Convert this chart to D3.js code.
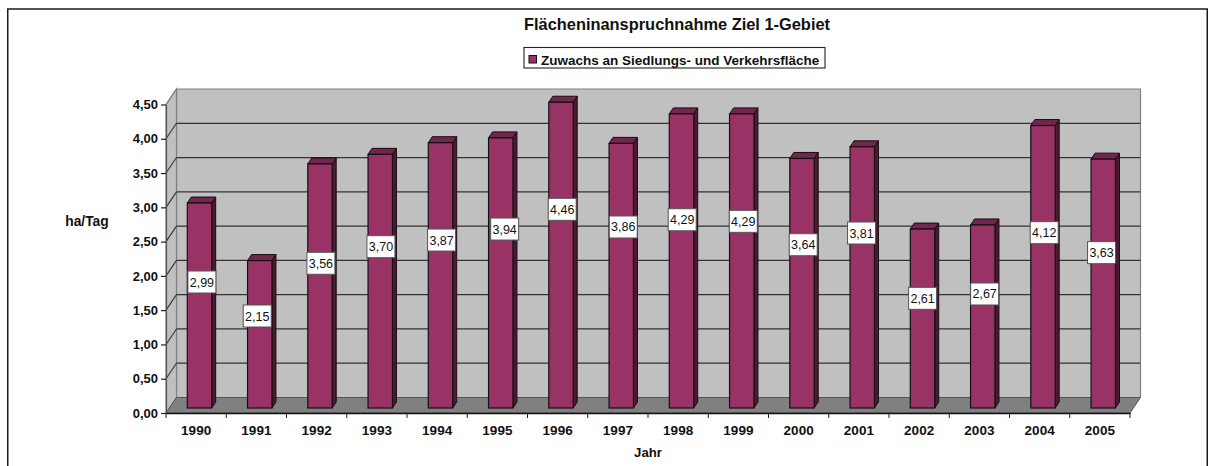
<!DOCTYPE html>
<html><head><meta charset="utf-8">
<script src="https://cdn.jsdelivr.net/npm/d3@7/dist/d3.min.js"></script>
<style>
html,body{margin:0;padding:0;background:#fff;overflow:hidden}
svg{display:block}
text{font-family:"Liberation Sans",Arial,sans-serif;fill:#111}
</style></head><body><svg id="c" width="1213" height="466"></svg>
<script>
const years = ["1990","1991","1992","1993","1994","1995","1996","1997","1998","1999","2000","2001","2002","2003","2004","2005"];
const growth = [2.99,2.15,3.56,3.70,3.87,3.94,4.46,3.86,4.29,4.29,3.64,3.81,2.61,2.67,4.12,3.63];
const yTicks = [0,0.5,1,1.5,2,2.5,3,3.5,4,4.5];
const titleText = "Flächeninanspruchnahme Ziel 1-Gebiet";
const legendText = "Zuwachs an Siedlungs- und Verkehrsfläche";
const yAxisTitle = "ha/Tag";
const xAxisTitle = "Jahr";
// hand-placed data labels in the original: shift from each bar's centre
const labelShiftX = [2.4,-2.5,0.9,0.7,1.1,3.9,1.2,2,0.7,1.5,1.2,-0.7,0.1,1.9,1.2,-1.7];
const labelShiftY = [-23.5,-18.3,-22.7,-34.5,-35.3,-43.9,-45.8,-48.7,-41.2,-39.6,-38.5,-44.4,-20.2,-22.5,-34.1,-30.9];

const svg = d3.select("#c");
const fmt = v => v.toFixed(2).replace(".", ",");
const x = d3.scaleBand().domain(years).range([166,1130]);
const y = d3.scaleLinear().domain([0,4.5]).range([413,104.5]);
const wallDx = 10.5, wallDy = -15.5, barDx = 4, barDy = -6;
const x0 = x.range()[0], x1 = x.range()[1], y0 = y(0), yTop = y(4.5);
const barW = 24.4, barLeft = 21.3, barLift = 5;
const poly = pts => pts.map(p => p.join(",")).join(" ");

// chart frame (open at the bottom of the crop)
svg.append("rect").attr("x",7.75).attr("y",9).attr("width",1199.5).attr("height",470)
  .attr("fill","#fff").attr("stroke","#1a1a1a").attr("stroke-width",1.5);

// walls and floor
svg.append("polygon").attr("points",poly([[x0+wallDx,yTop+wallDy],[x1+wallDx,yTop+wallDy],[x1+wallDx,y0+wallDy],[x0+wallDx,y0+wallDy]]))
  .attr("fill","#c0c0c0").attr("stroke","#808080").attr("stroke-width",1.2);
svg.append("polygon").attr("points",poly([[x0,yTop],[x0+wallDx,yTop+wallDy],[x0+wallDx,y0+wallDy],[x0,y0]]))
  .attr("fill","#c0c0c0").attr("stroke","#808080").attr("stroke-width",1.2);
svg.selectAll(".grid").data(yTicks.slice(1,-1)).join("line").attr("class","grid")
  .attr("x1",x0+wallDx).attr("x2",x1+wallDx).attr("y1",d=>y(d)+wallDy).attr("y2",d=>y(d)+wallDy)
  .attr("stroke","#333").attr("stroke-width",1.2);
svg.selectAll(".gridS").data(yTicks.slice(1)).join("line").attr("class","gridS")
  .attr("x1",x0).attr("x2",x0+wallDx).attr("y1",d=>y(d)).attr("y2",d=>y(d)+wallDy)
  .attr("stroke",d=>d===4.5?"#808080":"#333").attr("stroke-width",1.1);
svg.append("polygon").attr("points",poly([[x0,y0],[x0+wallDx,y0+wallDy],[x1+wallDx,y0+wallDy],[x1,y0]]))
  .attr("fill","#808080").attr("stroke","#555").attr("stroke-width",1);

// bars
const bars = svg.selectAll(".bar").data(years.map((yr,i)=>({yr,v:growth[i],i}))).join("g").attr("class","bar");
const bx = d => x(d.yr)+barLeft;
const bt = d => y(d.v)-barLift;
const bb = y0-barLift;
bars.append("polygon").attr("points",d=>poly([[bx(d)+barW,bt(d)],[bx(d)+barW+barDx,bt(d)+barDy],[bx(d)+barW+barDx,bb+barDy],[bx(d)+barW,bb]]))
  .attr("fill","#4c1a33").attr("stroke","#1a0a12").attr("stroke-width",1);
bars.append("polygon").attr("points",d=>poly([[bx(d),bt(d)],[bx(d)+barDx,bt(d)+barDy],[bx(d)+barW+barDx,bt(d)+barDy],[bx(d)+barW,bt(d)]]))
  .attr("fill","#73264d").attr("stroke","#1a0a12").attr("stroke-width",1);
bars.append("rect").attr("x",bx).attr("y",bt).attr("width",barW).attr("height",d=>bb-bt(d))
  .attr("fill","#993366").attr("stroke","#111").attr("stroke-width",1.2);

// axes
const gy = svg.append("g").attr("transform",`translate(${x0},0)`)
  .call(d3.axisLeft(y).tickValues(yTicks).tickFormat(fmt).tickSize(5).tickPadding(3).tickSizeOuter(0));
gy.selectAll("path,line").attr("stroke","#222").attr("stroke-width",1.2);
gy.select("path").attr("stroke","#555");
gy.selectAll("text").attr("font-size",13).attr("font-weight","bold").attr("font-family",'"Liberation Sans",Arial,sans-serif');

const gx = svg.append("g").attr("transform",`translate(0,${y0})`)
  .call(d3.axisBottom(x).tickSize(0).tickPadding(12));
gx.selectAll("path").attr("stroke","#111").attr("stroke-width",1.5);
gx.selectAll("text").attr("font-size",13.5).attr("font-weight","bold").attr("font-family",'"Liberation Sans",Arial,sans-serif');
svg.selectAll(".xt").data(years.concat(["end"])).join("line").attr("class","xt")
  .attr("x1",(d,i)=>x0+i*x.step()).attr("x2",(d,i)=>x0+i*x.step())
  .attr("y1",y0).attr("y2",y0+5).attr("stroke","#222").attr("stroke-width",1);

// data labels
const lab = svg.selectAll(".lab").data(years.map((yr,i)=>({yr,v:growth[i],i}))).join("g").attr("class","lab")
  .attr("transform",d=>`translate(${bx(d)+barW/2+labelShiftX[d.i]},${(bb+bt(d))/2+labelShiftY[d.i]})`);
lab.append("rect").attr("x",-14).attr("y",-11).attr("width",28).attr("height",22)
  .attr("fill","#fff").attr("stroke","#555").attr("stroke-width",1);
lab.append("text").attr("text-anchor","middle").attr("dy","0.36em").attr("font-size",12.5).text(d=>fmt(d.v));

// titles
svg.append("text").attr("x",677).attr("y",29.5).attr("text-anchor","middle")
  .attr("font-size",16.4).attr("font-weight","bold").text(titleText);
svg.append("text").attr("x",87).attr("y",226).attr("text-anchor","middle")
  .attr("font-size",13.8).attr("font-weight","bold").text(yAxisTitle);
svg.append("text").attr("x",648).attr("y",457).attr("text-anchor","middle")
  .attr("font-size",13.2).attr("font-weight","bold").text(xAxisTitle);

// legend
svg.append("rect").attr("x",524).attr("y",47.5).attr("width",301).attr("height",20.5)
  .attr("fill","#fff").attr("stroke","#222").attr("stroke-width",1.1);
svg.append("rect").attr("x",529).attr("y",55.5).attr("width",7.5).attr("height",7.5)
  .attr("fill","#993366").attr("stroke","#111").attr("stroke-width",1);
svg.append("text").attr("x",541).attr("y",64.5).attr("font-size",13.5).attr("font-weight","bold").text(legendText);
</script></body></html>
